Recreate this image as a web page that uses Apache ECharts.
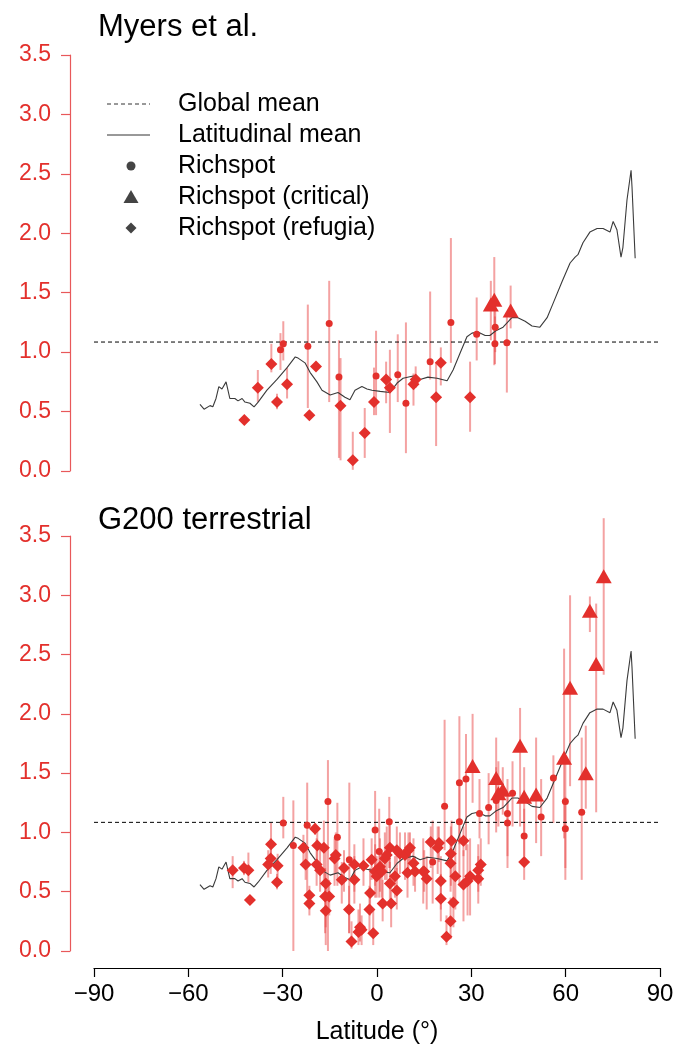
<!DOCTYPE html>
<html>
<head>
<meta charset="utf-8">
<script src="https://cdn.jsdelivr.net/npm/echarts@6/dist/echarts.min.js"></script>
<style>
html,body{margin:0;padding:0;background:#fff;}
#chart{width:679px;height:1051px;}
</style>
</head>
<body>
<div id="chart"></div>
<script>
// ---------- DATA ----------
const xTicks = [-90, -60, -30, 0, 30, 60, 90];
const yTicks = [0, 0.5, 1, 1.5, 2, 2.5, 3, 3.5];
const globalMean = 1.085;
// latitudinal mean curve [lat, value]
const latMean = [[-56.3,0.56],[-55,0.52],[-53.1,0.55],[-52.2,0.54],[-51.2,0.61],[-50.3,0.71],[-49.3,0.69],[-48,0.75],[-47.4,0.68],[-46.8,0.61],[-45.2,0.61],[-44.2,0.59],[-42.9,0.61],[-42,0.58],[-40.4,0.57],[-39.1,0.54],[-37.8,0.58],[-35,0.68],[-31.8,0.77],[-28.6,0.87],[-26,0.96],[-25.1,0.95],[-22.9,0.91],[-21.3,0.83],[-19.1,0.75],[-17.5,0.68],[-14.9,0.64],[-12.4,0.66],[-10.2,0.62],[-8.6,0.60],[-7,0.68],[-4.8,0.71],[-3.2,0.69],[-1.6,0.68],[1,0.67],[4.1,0.66],[6.4,0.74],[8.3,0.78],[11.5,0.80],[13.7,0.77],[16.2,0.79],[19.1,0.78],[22.3,0.76],[24.2,0.85],[26.4,0.99],[28.6,1.13],[30.2,1.16],[32.1,1.17],[34.4,1.14],[35.9,1.14],[37.8,1.18],[40.1,1.21],[42.9,1.29],[44.8,1.29],[47.1,1.26],[49.3,1.22],[51.8,1.21],[54.1,1.29],[56,1.41],[58.8,1.59],[61.4,1.75],[63,1.80],[63.9,1.82],[65.5,1.92],[67.7,2.01],[70,2.04],[71.9,2.04],[74.1,2.01],[75.1,2.10],[76.3,2.03],[77.6,1.80],[78.2,1.88],[79.5,2.28],[80.8,2.53],[81.1,2.39],[82.1,1.79]];

// Myers et al. : [lat, value, low, high]
const myersRichspot = [[-30.7,1.02,0.85,1.16],[-29.8,1.07,0.93,1.26],[-22.0,1.05,0.53,1.40],[-15.2,1.24,0.58,1.60],[-12.1,0.79,0.11,1.10],[-0.3,0.80,0.47,1.18],[6.6,0.81,0.58,1.15],[9.2,0.57,0.15,1.25],[16.9,0.92,0.77,1.51],[23.5,1.25,0.91,1.96],[31.7,1.15,0.93,1.46],[37.6,1.21,1.00,1.45],[37.5,1.07,0.90,1.30],[41.3,1.08,0.66,1.33]];
const myersCritical = [[36.2,1.40,1.10,1.60],[37.3,1.44,0.89,1.80],[42.5,1.35,1.20,1.56]];
const myersRefugia = [[-42.2,0.43,0.43,0.43],[-37.9,0.70,0.58,0.85],[-33.6,0.90,0.83,1.07],[-31.8,0.58,0.52,0.65],[-28.6,0.73,0.61,0.87],[-21.5,0.47,0.47,0.47],[-19.4,0.88,0.85,0.92],[-11.6,0.55,0.09,0.95],[-7.7,0.09,0.01,0.33],[-3.9,0.32,0.11,0.53],[-0.95,0.58,0.47,0.87],[2.9,0.77,0.57,0.92],[4.1,0.70,0.32,1.02],[11.6,0.73,0.55,0.82],[12.3,0.77,0.70,0.88],[18.8,0.62,0.21,0.91],[20.3,0.91,0.72,1.04],[29.6,0.62,0.33,0.92]];

// G200 terrestrial : [lat, value, low, high]
const g200Richspot = [[-29.8,1.08,0.95,1.30],[-26.6,0.89,0.0,1.27],[-22.2,1.06,0.45,1.42],[-15.6,1.26,0.0,1.61],[-12.6,0.96,0.55,1.25],[-8.8,0.77,0.15,1.42],[-0.6,1.02,0.55,1.35],[0.7,0.84,0.45,1.20],[3.9,1.09,0.70,1.30],[17.7,0.75,0.40,1.10],[21.5,1.22,0.85,1.95],[26.2,1.42,0.90,1.98],[28.3,1.45,0.85,1.83],[26.2,1.09,0.55,1.42],[32.6,1.16,0.95,1.45],[35.5,1.21,0.90,1.50],[37.9,1.27,1.00,1.55],[41.5,1.16,0.70,1.45],[41.5,1.08,0.80,1.30],[43.1,1.33,1.05,1.60],[46.8,0.97,0.80,1.20],[52.2,1.13,0.80,1.45],[56.1,1.46,1.08,1.65],[59.9,1.26,0.70,1.65],[59.9,1.03,0.60,1.30],[65.1,1.17,0.60,1.80]];
const g200Critical = [[30.4,1.56,1.25,2.00],[37.9,1.46,1.10,1.80],[38.6,1.33,1.05,1.60],[40.0,1.36,1.15,1.55],[45.5,1.73,1.05,2.05],[46.8,1.30,1.00,1.55],[50.6,1.32,0.91,1.80],[59.5,1.63,0.95,2.55],[61.4,2.22,1.39,3.00],[66.4,1.50,1.20,1.90],[67.7,2.87,2.69,2.99],[69.7,2.42,1.17,2.93],[72.1,3.16,2.33,3.65]];
const g200Refugia = [[-45.9,0.68,0.53,0.80],[-42.3,0.70,0.64,0.76],[-40.9,0.68,0.58,0.83],[-40.4,0.43,0.43,0.43],[-34.6,0.73,0.62,0.85],[-33.8,0.78,0.65,0.95],[-33.7,0.90,0.80,1.08],[-31.6,0.72,0.62,0.82],[-31.8,0.58,0.52,0.65],[-23.4,0.87,0.75,0.98],[-22.7,0.73,0.60,0.85],[-21.5,0.47,0.35,0.55],[-21.5,0.40,0.30,0.47],[-19.7,1.03,0.98,1.08],[-19.2,0.73,0.55,0.95],[-19.0,0.89,0.70,1.05],[-18.1,0.68,0.50,0.90],[-16.9,0.87,0.55,1.10],[-16.3,0.57,0.20,0.85],[-16.5,0.46,0.15,0.70],[-15.2,0.46,0.30,0.60],[-16.3,0.34,0.05,0.55],[-13.5,0.78,0.55,0.95],[-13.1,0.81,0.65,1.00],[-11.2,0.60,0.40,0.75],[-10.5,0.70,0.50,0.85],[-8.9,0.35,0.15,0.55],[-8.1,0.08,0.02,0.25],[-7.2,0.73,0.50,0.90],[-7.2,0.60,0.40,0.80],[-5.9,0.16,0.05,0.35],[-5.4,0.20,0.08,0.40],[-4.9,0.18,0.05,0.30],[-4.3,0.72,0.55,0.95],[-2.4,0.35,0.15,0.55],[-2.2,0.49,0.30,0.70],[-1.7,0.77,0.60,0.95],[-1.2,0.15,0.05,0.35],[-0.6,0.67,0.45,0.90],[-0.1,0.63,0.45,0.80],[0.95,0.71,0.50,0.95],[1.5,0.67,0.45,0.85],[1.8,0.40,0.25,0.60],[2.5,0.78,0.60,1.00],[3.1,0.81,0.60,1.05],[4.1,0.87,0.70,1.10],[4.1,0.57,0.40,0.75],[4.5,0.40,0.20,0.60],[5.7,0.63,0.45,0.80],[6.3,0.51,0.35,0.70],[6.3,0.85,0.65,1.05],[7.3,0.82,0.65,1.00],[8.9,0.81,0.60,1.00],[10.0,0.85,0.70,1.00],[10.5,0.87,0.75,1.00],[9.7,0.66,0.45,0.85],[11.6,0.74,0.55,0.95],[12.1,0.67,0.50,0.80],[14.7,0.67,0.40,0.95],[15.0,0.67,0.50,0.85],[15.8,0.61,0.35,0.80],[17.1,0.92,0.70,1.05],[19.3,0.87,0.65,1.05],[19.7,0.91,0.75,1.05],[20.3,0.59,0.35,0.80],[20.3,0.44,0.25,0.65],[22.1,0.12,0.05,0.30],[23.4,0.25,0.10,0.45],[23.4,0.74,0.50,0.95],[23.5,0.82,0.55,1.05],[23.7,0.93,0.75,1.10],[24.3,0.41,0.20,0.75],[24.9,0.63,0.35,0.90],[27.5,0.93,0.80,1.05],[27.5,0.56,0.25,0.85],[28.8,0.59,0.30,0.90],[29.6,0.63,0.30,0.95],[32.2,0.68,0.50,0.90],[32.2,0.61,0.40,0.80],[33.0,0.73,0.55,0.95],[46.8,0.75,0.60,0.95]];

const panelTitles = ['Myers et al.', 'G200 terrestrial'];
const legendLabels = ['Global mean', 'Latitudinal mean', 'Richspot', 'Richspot (critical)', 'Richspot (refugia)'];

// ---------- STYLE ----------
const FONT = 'Liberation Sans, Arial, Helvetica, sans-serif';
const RED = '#e3302c';
const BAR = 'rgba(234,70,70,0.5)';
const AXRED = '#e8585a';

const chart = echarts.init(document.getElementById('chart'), null, {renderer: 'canvas'});

function errSeries(idx, rows) {
  return {
    type: 'custom', xAxisIndex: idx, yAxisIndex: idx, silent: true, clip: false, z: 2,
    data: rows.map(r => [r[0], r[2], r[3]]),
    encode: {x: 0, y: [1, 2]},
    renderItem: function (params, api) {
      const a = api.coord([api.value(0), api.value(1)]);
      const b = api.coord([api.value(0), api.value(2)]);
      return {type: 'line', shape: {x1: a[0], y1: a[1], x2: b[0], y2: b[1]},
              style: {stroke: BAR, lineWidth: 2}};
    }
  };
}
function pts(idx, rows, name, symbol, size) {
  return {
    type: 'scatter', name: name, xAxisIndex: idx, yAxisIndex: idx, z: 4,
    symbol: symbol, symbolSize: size, clip: false,
    itemStyle: {color: RED, opacity: 1},
    data: rows.map(r => [r[0], r[1]])
  };
}
function panelSeries(idx, rich, crit, ref) {
  return [
    {type: 'line', name: legendLabels[0], xAxisIndex: idx, yAxisIndex: idx, symbol: 'none', z: 3,
     lineStyle: {color: '#000', width: 1, type: [4, 3]}, data: [[-90, globalMean], [90, globalMean]]},
    {type: 'line', name: legendLabels[1], xAxisIndex: idx, yAxisIndex: idx, symbol: 'none', z: 3,
     lineStyle: {color: '#3a3a3a', width: 1.1}, data: latMean},
    errSeries(idx, rich), errSeries(idx, crit), errSeries(idx, ref),
    pts(idx, ref, legendLabels[4], 'diamond', 12),
    pts(idx, rich, legendLabels[2], 'circle', 7),
    pts(idx, crit, legendLabels[3], 'triangle', [16, 14])
  ];
}
function yAx(idx) {
  return {
    gridIndex: idx, type: 'value', min: 0, max: 3.5, interval: 0.5, offset: 24,
    axisLine: {show: true, onZero: false, lineStyle: {color: AXRED, width: 1.2}},
    axisTick: {show: true, length: 9, lineStyle: {color: AXRED, width: 1.2}},
    axisLabel: {color: RED, fontSize: 23, fontFamily: FONT, margin: 19,
                formatter: v => v.toFixed(1)},
    splitLine: {show: false}
  };
}

const legendY = [104, 135, 166, 197, 228];
const LX = 107, LX2 = 150, LCX = 131, TX = 178, LC = '#444';

const option = {
  animation: false,
  backgroundColor: '#fff',
  title: [
    {text: panelTitles[0], left: 93, top: 7, textStyle: {fontSize: 31, fontWeight: 'normal', color: '#000', fontFamily: FONT}},
    {text: panelTitles[1], left: 93, top: 500, textStyle: {fontSize: 31, fontWeight: 'normal', color: '#000', fontFamily: FONT}}
  ],
  grid: [
    {left: 94, right: 19, top: 55, height: 416},
    {left: 94, right: 19, top: 536, height: 415}
  ],
  xAxis: [
    {gridIndex: 0, type: 'value', min: -90, max: 90, interval: 30, show: false},
    {gridIndex: 1, type: 'value', min: -90, max: 90, interval: 30, offset: 17,
     axisLine: {show: true, onZero: false, lineStyle: {color: '#000', width: 1.2}},
     axisTick: {show: true, length: 9, lineStyle: {color: '#000', width: 1.2}},
     axisLabel: {color: '#000', fontSize: 24, fontFamily: FONT, margin: 14,
                 formatter: v => (v < 0 ? '\u2212' + Math.abs(v) : String(v))},
     splitLine: {show: false},
     name: 'Latitude (\u00b0)', nameLocation: 'middle', nameGap: 52,
     nameTextStyle: {color: '#000', fontSize: 25, fontFamily: FONT}}
  ],
  yAxis: [yAx(0), yAx(1)],
  graphic: [
    {type: 'line', shape: {x1: LX, y1: legendY[0], x2: LX2, y2: legendY[0]}, style: {stroke: '#333', lineWidth: 1, lineDash: [4, 3]}},
    {type: 'line', shape: {x1: LX, y1: legendY[1], x2: LX2, y2: legendY[1]}, style: {stroke: '#333', lineWidth: 1}},
    {type: 'circle', shape: {cx: LCX, cy: legendY[2], r: 4.5}, style: {fill: LC}},
    {type: 'polygon', shape: {points: [[LCX - 7.5, legendY[3] + 6], [LCX + 7.5, legendY[3] + 6], [LCX, legendY[3] - 7]]}, style: {fill: LC}},
    {type: 'polygon', shape: {points: [[LCX, legendY[4] - 5.5], [LCX + 5.5, legendY[4]], [LCX, legendY[4] + 5.5], [LCX - 5.5, legendY[4]]]}, style: {fill: LC}}
  ].concat(legendLabels.map((t, i) => ({
    type: 'text', left: TX, top: legendY[i] - 12,
    style: {text: t, fontSize: 25, fontFamily: FONT, fill: '#000'}
  }))),
  series: [].concat(
    panelSeries(0, myersRichspot, myersCritical, myersRefugia),
    panelSeries(1, g200Richspot, g200Critical, g200Refugia)
  )
};
chart.setOption(option);
</script>
</body>
</html>
